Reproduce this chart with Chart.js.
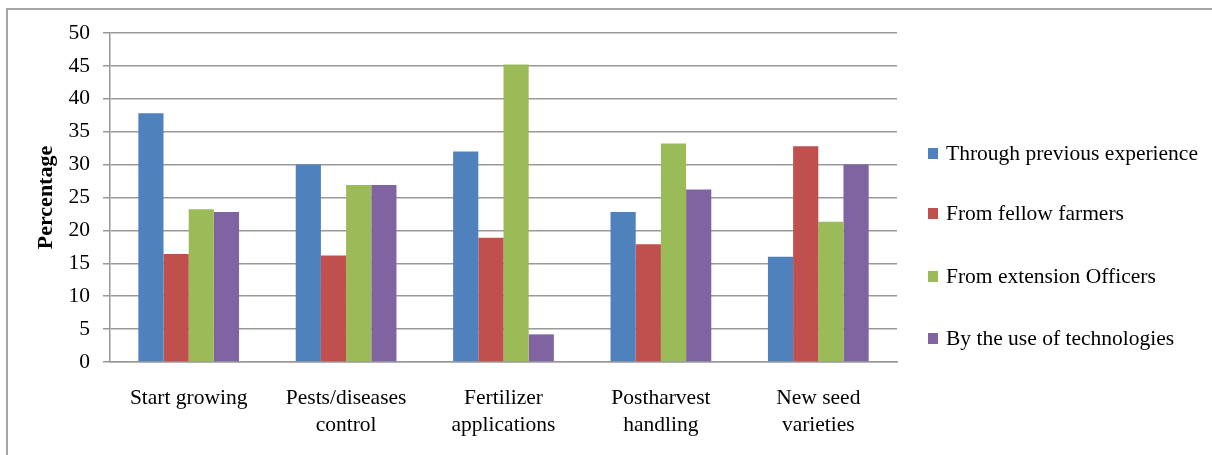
<!DOCTYPE html>
<html>
<head>
<meta charset="utf-8">
<script src="https://cdn.jsdelivr.net/npm/chart.js@4"></script>
<style>
  body { margin: 0; background: #fff; }
  #wrap { position: relative; width: 1212px; height: 455px; }
  #frame { position: absolute; left: 6px; top: 8px; right: 0; bottom: 0;
           border-top: 2px solid #a6a6a6; border-left: 2px solid #a6a6a6; pointer-events: none; }
  #legend { position: absolute; left: 928px; top: 0; font-family: "Liberation Serif", serif; font-size: 21.5px; color: #000; }
  .item { position: absolute; white-space: nowrap; line-height: 24px; }
  .box { display: inline-block; width: 10px; height: 11px; margin-right: 8px; vertical-align: 1px; }
</style>
</head>
<body>
<div id="wrap">
  <canvas id="chart" width="1212" height="455"></canvas>
  <div id="frame"></div>
  <div id="legend"></div>
</div>
<script>
const categories = ["Start growing", ["Pests/diseases", "control"], ["Fertilizer", "applications"], ["Postharvest", "handling"], ["New seed", "varieties"]];
const seriesNames = ["Through previous experience", "From fellow farmers", "From extension Officers", "By the use of technologies"];
const previousExperience = [37.8, 30.0, 32.0, 22.8, 16.0];
const fellowFarmers = [16.4, 16.2, 18.9, 17.9, 32.8];
const extensionOfficers = [23.2, 26.9, 45.2, 33.2, 21.3];
const technologies = [22.8, 26.9, 4.2, 26.2, 30.0];
const colors = ["#4f81bd", "#c0504d", "#9bbb59", "#8064a2"];

const serif = "'Liberation Serif', 'Times New Roman', serif";

const chartData = {
  labels: categories,
  datasets: [previousExperience, fellowFarmers, extensionOfficers, technologies].map((values, i) => ({
    label: seriesNames[i],
    data: values,
    backgroundColor: colors[i],
    borderWidth: 0,
    categoryPercentage: 0.64,
    barPercentage: 1,
  })),
};

const chartConfig = {
  type: "bar",
  data: chartData,
  options: {
    responsive: false,
    animation: false,
    layout: { padding: { left: 21, right: 315, top: 33, bottom: 0 } },
    plugins: {
      legend: { display: false },
      tooltip: { enabled: false },
    },
    scales: {
      x: {
        grid: { display: false, drawTicks: false },
        border: { color: "#999", width: 1.5 },
        ticks: { color: "#000", font: { family: serif, size: 21.5, lineHeight: 1.25 }, padding: 23, maxRotation: 0 },
        afterFit: (scale) => {
          scale.height = 93;
          scale.paddingLeft = 0;
          scale.paddingRight = 0;
        },
      },
      y: {
        min: 0,
        max: 50,
        ticks: { stepSize: 5, color: "#000", font: { family: serif, size: 21.5 }, padding: 13 },
        grid: { color: "#999", lineWidth: 1.5, tickLength: 7 },
        border: { color: "#999", width: 1.5 },
        title: {
          display: true,
          text: "Percentage",
          color: "#000",
          font: { family: serif, size: 22, weight: "bold" },
          padding: { top: 12, bottom: 9 },
        },
        afterFit: (scale) => { scale.width = 89; },
      },
    },
  },
};

const myChart = new Chart(document.getElementById("chart"), chartConfig);

// legend as html, same order as the datasets
const legendEl = document.getElementById("legend");
const legendCenters = [153, 213, 276, 338];
chartData.datasets.forEach((ds, i) => {
  const item = document.createElement("div");
  item.className = "item";
  item.style.top = (legendCenters[i] - 12) + "px";
  item.innerHTML = '<span class="box" style="background:' + ds.backgroundColor + '"></span>' + ds.label;
  legendEl.appendChild(item);
});
</script>
</body>
</html>
